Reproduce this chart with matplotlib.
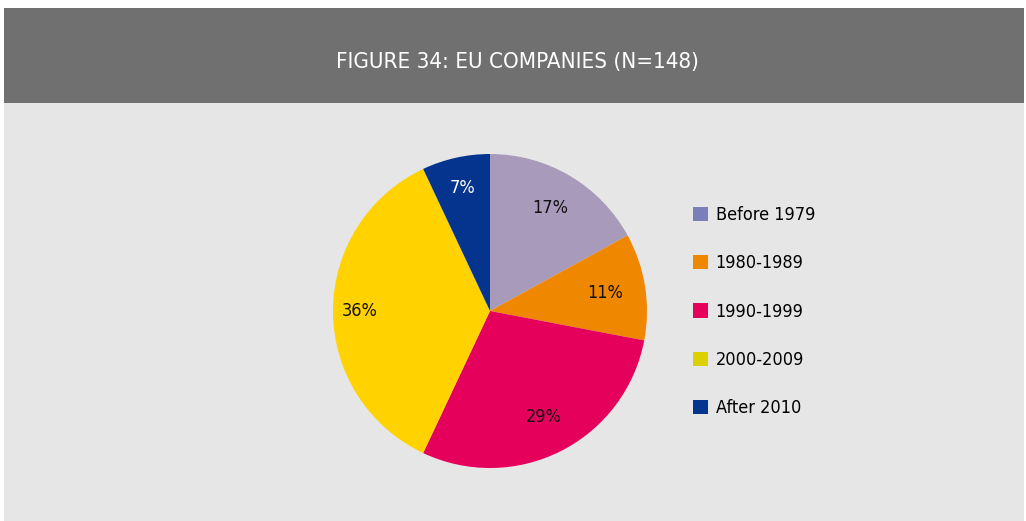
import matplotlib.pyplot as plt
from matplotlib.patches import Rectangle, Patch

# données
categories = ["Before 1979", "1980-1989", "1990-1999", "2000-2009", "After 2010"]
parts = [17, 11, 29, 36, 7]
couleurs_pie = ["#A89ABB", "#F08700", "#E5005B", "#FFD200", "#05348F"]
couleurs_legende = ["#7A7EB9", "#F08700", "#E5005B", "#DDD000", "#05348F"]
couleurs_texte = ["#111111", "#111111", "#111111", "#111111", "#FFFFFF"]
titre = "FIGURE 34: EU COMPANIES (N=148)"

plt.rcParams['font.family'] = ["DejaVu Sans"]
plt.rcParams['font.stretch'] = "condensed"

fig = plt.figure(figsize=(10.26, 5.21), dpi=100)
fig.patch.set_facecolor("white")

# fond du panneau + bandeau du titre
W, H = 1026, 521
fig.patches.append(Rectangle((4 / W, 0), 1020 / W, (H - 103) / H, transform=fig.transFigure,
                             facecolor="#E6E6E6", edgecolor="none", zorder=-5))
fig.patches.append(Rectangle((4 / W, (H - 103) / H), 1020 / W, 95 / H, transform=fig.transFigure,
                             facecolor="#707070", edgecolor="none", zorder=-5))
fig.text(517 / W, 1 - 62 / H, titre, color="white", fontsize=16, ha="center", va="center",
         fontstretch="condensed")

# camembert
r = 157
ax = fig.add_axes([(490 - r) / W, 1 - (311 + r) / H, 2 * r / W, 2 * r / H], zorder=2)
ax.set_facecolor("none")
wedges, textes, pcts = ax.pie(parts, colors=couleurs_pie, startangle=90, counterclock=False,
                              autopct=lambda p: "%d%%" % round(p), pctdistance=0.76,
                              wedgeprops=dict(linewidth=0), radius=1)
ax.set_xlim(-1, 1)
ax.set_ylim(-1, 1)
ax.set_aspect("equal")
distances = [0.76, 0.74, 0.76, 0.83, 0.80]
for t, d, c in zip(pcts, distances, couleurs_texte):
    x, y = t.get_position()
    n = (x * x + y * y) ** 0.5
    t.set_position((x / n * d, y / n * d))
    t.set_color(c)
    t.set_fontsize(13)
    t.set_fontstretch("condensed")

# légende
poignees = [Patch(facecolor=c, edgecolor="none") for c in couleurs_legende]
fig.legend(poignees, categories, loc="upper left", bbox_to_anchor=(684 / W, 1 - 197 / H),
           frameon=False, fontsize=13, handlelength=0.85, handleheight=0.85,
           handletextpad=0.4, labelspacing=1.68, borderpad=0)

fig.savefig("out.png", dpi=100)
